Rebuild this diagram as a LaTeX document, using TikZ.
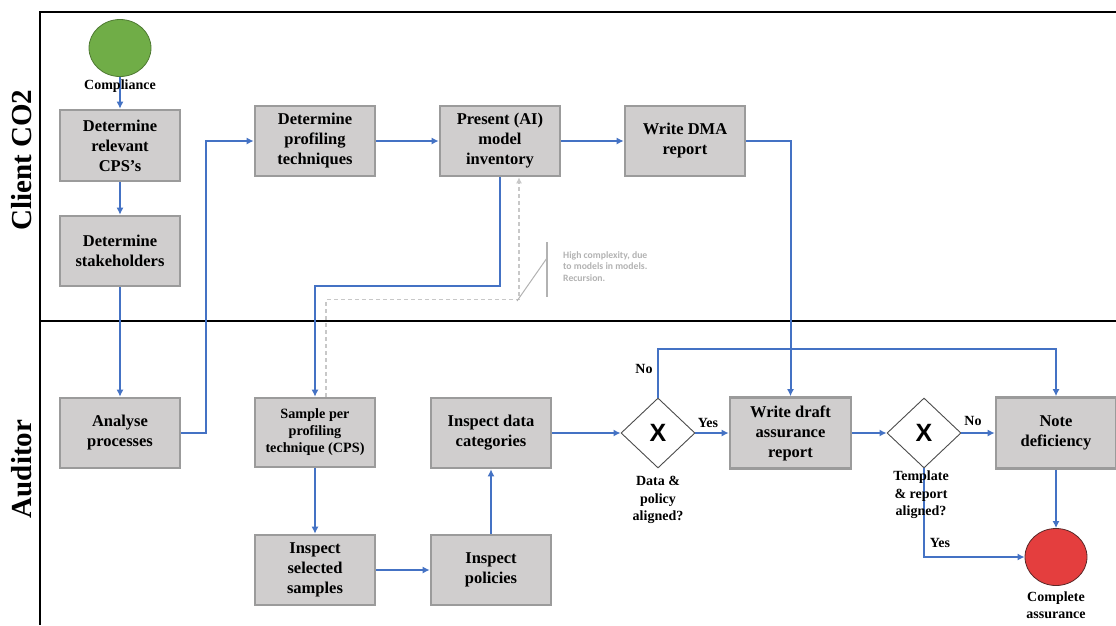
\documentclass[tikz,border=0pt]{standalone}
\usepackage{fontspec}
\setmainfont{Liberation Serif}
\newfontfamily\notefont{Carlito}
\newfontfamily\gatefont{Liberation Sans}
\usetikzlibrary{arrows.meta,shapes.geometric}

\definecolor{flowblue}{RGB}{68,114,196}
\definecolor{boxfill}{RGB}{208,206,206}
\definecolor{boxline}{RGB}{155,155,155}
\definecolor{startgreen}{RGB}{112,173,71}
\definecolor{endred}{RGB}{228,62,62}
\definecolor{endline}{RGB}{90,40,40}
\definecolor{notegray}{RGB}{178,178,178}
\definecolor{dashgray}{RGB}{200,200,200}

\begin{document}
\begin{tikzpicture}[x=1pt,y=-1pt,
  task/.style={rectangle, draw=boxline, fill=boxfill, line width=2.6pt,
    minimum width=120pt, minimum height=70pt, inner sep=2pt, align=center,
    font=\fontsize{16.5}{20}\selectfont\bfseries},
  smalltask/.style={task, font=\fontsize{14.2}{17}\selectfont\bfseries},
  gate/.style={diamond, draw=black!70, fill=white, line width=0.9pt, aspect=1,
    minimum width=74pt, minimum height=70pt, inner sep=0pt,
    font=\gatefont\fontsize{25}{25}\selectfont\bfseries},
  event/.style={ellipse, draw=#1!70!black, fill=#1, line width=0.8pt,
    minimum width=62pt, minimum height=57pt, inner sep=0pt},
  lbl/.style={align=center, inner sep=0pt, font=\fontsize{14}{17.5}\selectfont\bfseries},
  lane/.style={rotate=90, inner sep=0pt, font=\fontsize{29}{29}\selectfont\bfseries},
  flow/.style={draw=flowblue, line width=2pt,
    -{Latex[length=7pt,width=7pt]}},
  frame/.style={line width=1.6pt, draw=black}
]
\useasboundingbox (0,0) rectangle (1116,625);

% swimlane frame
\draw[frame] (1116,12) -- (40,12) -- (40,625);
\draw[frame] (40,321) -- (1116,321);
\node[lane] (laneclient) at (22,160) {Client CO2};
\node[lane] (laneaudit) at (22,469) {Auditor};

% events
\node[event=startgreen] (start) at (120,48) {};
\node[event=endred, draw=endline] (finish) at (1056,557) {};

% client lane tasks
\node[task, minimum height=71pt] (cps) at (120,145.5) {Determine\\relevant\\CPS’s};
\node[task] (stake) at (120,251) {Determine\\stakeholders};
\node[task] (prof) at (315,141) {Determine\\profiling\\techniques};
\node[task] (present) at (500,141) {Present (AI)\\model\\inventory};
\node[task] (dma) at (685,141) {Write DMA\\report};

% auditor lane tasks
\node[task] (analyse) at (120,433) {Analyse\\processes};
\node[smalltask, minimum height=69pt] (sample) at (315,432.5) {Sample per\\profiling\\technique (CPS)};
\node[task] (samples) at (315,570) {Inspect\\selected\\samples};
\node[task] (policies) at (491,570) {Inspect\\policies};
\node[task] (datacat) at (491,433) {Inspect data\\categories};
\node[task, minimum width=121pt, minimum height=71pt] (draft) at (790.5,433) {Write draft\\assurance\\report};
\node[task, minimum height=71pt] (note) at (1056,433) {Note\\deficiency};

% gateways
\node[gate] (g1) at (658,433) {X};
\node[gate] (g2) at (924,433) {X};

% recursion hint (dashed back link with callout)
\draw[draw=dashgray, line width=1.1pt, dash pattern=on 4pt off 3pt,
  -{Latex[length=6pt,width=6pt]}]
  ([xshift=11pt]sample.north) -- ++(0,-97) -| ([xshift=19pt]present.south);
\draw[draw=notegray, line width=1pt] (517,301) -- (547,258);
\draw[draw=notegray, line width=1.2pt] (547,242) -- (547,297);
\node[anchor=north west, align=left, inner sep=0pt, text=notegray,
  font=\notefont\fontsize{9.7}{11.8}\selectfont\bfseries] (hint) at (563,251)
  {High complexity, due\\to models in models.\\Recursion.};

% sequence flows
\draw[flow] (start.south) -- (cps.north);
\draw[flow] (cps.south) -- (stake.north);
\draw[flow] (stake.south) -- (analyse.north);
\draw[flow] (analyse.east) -- ++(25,0) |- (prof.west);
\draw[flow] (prof.east) -- (present.west);
\draw[flow] (present.east) -- (dma.west);
\draw[flow] (present.south) -- ++(0,109) -| (sample.north);
\draw[flow] (dma.east) -| (draft.north);
\draw[flow] (sample.south) -- (samples.north);
\draw[flow] (samples.east) -- (policies.west);
\draw[flow] (policies.north) -- (datacat.south);
\draw[flow] (datacat.east) -- (g1.west);
\draw[flow] (g1.east) -- (draft.west);
\draw[flow] (g1.north) -- ++(0,-49) -| (note.north);
\draw[flow] (draft.east) -- (g2.west);
\draw[flow] (g2.east) -- (note.west);
\draw[flow] (g2.south) |- (finish.west);
\draw[flow] (note.south) -- (finish.north);

% labels
\node[lbl] (lcompliance) at (120,86) {Compliance};
\node[lbl] (lg1) at (658,500) {Data \&\\policy\\aligned?};
\node[lbl] (lg2) at (921,495) {Template\\\& report\\aligned?};
\node[lbl] (lfinish) at (1056,605) {Complete\\assurance};
\node[lbl] (lno1) at (644,369) {No};
\node[lbl] (lyes1) at (708,423) {Yes};
\node[lbl] (lno2) at (973,421) {No};
\node[lbl] (lyes2) at (940,543) {Yes};
\end{tikzpicture}
\end{document}
